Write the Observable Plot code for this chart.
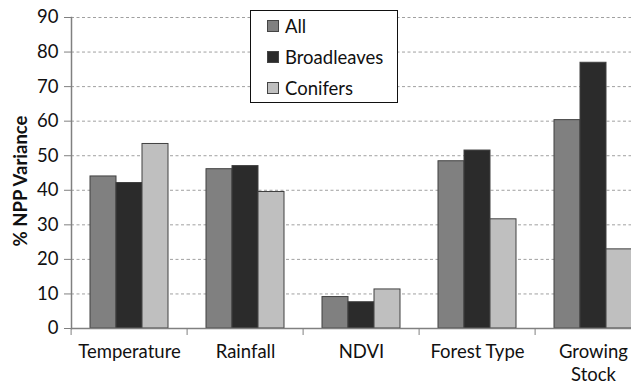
<!DOCTYPE html>
<html>
<head>
<meta charset="utf-8">
<script src="https://cdn.jsdelivr.net/npm/d3@7"></script>
<script src="https://cdn.jsdelivr.net/npm/@observablehq/plot@0.6"></script>
<style>
  html, body { margin: 0; padding: 0; background: #fff; overflow: hidden; }
  #wrap { position: relative; width: 631px; height: 387px; }
  #legend {
    position: absolute; left: 250px; top: 10px; width: 148px; height: 93px;
    border: 1px solid #111; background: #fff; box-sizing: border-box;
    font-family: Lato, sans-serif; font-size: 18.5px; color: #111;
  }
  .item { position: absolute; left: 16px; height: 20px; display: flex; align-items: center; }
  .sw { width: 10px; height: 10px; border: 1px solid #444; margin-right: 6px; }
</style>
</head>
<body>
<div id="wrap"><div id="chart"></div><div id="legend"></div></div>
<script>
const categories = ["Temperature", "Rainfall", "NDVI", "Forest Type", "Growing Stock"];
const categoryLabels = ["Temperature", "Rainfall", "NDVI", "Forest Type", "Growing\nStock"];
const series = ["All", "Broadleaves", "Conifers"];
const seriesColors = ["#808080", "#2b2b2b", "#bfbfbf"];
const allValues = [44.0, 46.1, 9.1, 48.4, 60.3];
const broadleavesValues = [42.1, 47.0, 7.6, 51.5, 76.9];
const coniferValues = [53.4, 39.5, 11.3, 31.6, 22.9];
const yTicks = [0, 10, 20, 30, 40, 50, 60, 70, 80, 90];

const seriesValues = [allValues, broadleavesValues, coniferValues];
const table = [];
categories.forEach((c, i) => series.forEach((s, j) => table.push({category: c, series: s, value: seriesValues[j][i]})));

const marginLeft = 69, step = 116.8;
const font = "Lato, sans-serif";

const chart = Plot.plot({
  width: 631, height: 387,
  marginLeft, marginRight: 0, marginTop: 17, marginBottom: 59,
  style: {fontFamily: font, fontSize: "18px", color: "#111", background: "#fff"},
  fx: {domain: categories, range: [marginLeft, marginLeft + step * categories.length], padding: 0, axis: null},
  x: {domain: series, paddingInner: 0, paddingOuter: 0.72, axis: null},
  y: {domain: [0, 90], axis: null},
  color: {domain: series, range: seriesColors},
  marks: [
    Plot.ruleY(yTicks.filter(d => d > 0), {stroke: "#a0a0a0", strokeDasharray: "3,2.5"}),
    Plot.barY(table, {fx: "category", x: "series", y: "value", fill: "series", stroke: "#404040", strokeWidth: 1}),
    Plot.ruleY([0], {stroke: "#808080", strokeWidth: 1.5}),
    Plot.frame({anchor: "left", facetAnchor: "left", stroke: "#808080", strokeWidth: 1.5}),
    Plot.axisY({ticks: yTicks, tickSize: 7, tickPadding: 6, stroke: "#808080", label: null, fontSize: 18.5, tickFormat: d => String(d)}),
    Plot.axisFx({anchor: "bottom", tickSize: 7, stroke: "#808080", dx: -step / 2, tickFormat: () => "", label: null}),
    Plot.axisFx({anchor: "bottom", tickSize: 0, tickPadding: 13, label: null, fontSize: 18.5, lineHeight: 1.24,
      tickFormat: d => categoryLabels[categories.indexOf(d)]}),
    Plot.text(["% NPP Variance"], {frameAnchor: "left", textAnchor: "middle", dx: -50, dy: 8, rotate: -90, fontWeight: "bold", fontSize: 18.5, fill: "#111", facetAnchor: "left"})
  ]
});
document.getElementById("chart").appendChild(chart);

const legend = document.getElementById("legend");
series.forEach((s, i) => {
  const item = document.createElement("div");
  item.className = "item";
  item.style.top = (5 + i * 31) + "px";
  const sw = document.createElement("div");
  sw.className = "sw";
  sw.style.background = seriesColors[i];
  const t = document.createElement("span");
  t.textContent = s;
  item.appendChild(sw); item.appendChild(t);
  legend.appendChild(item);
});
</script>
</body>
</html>
